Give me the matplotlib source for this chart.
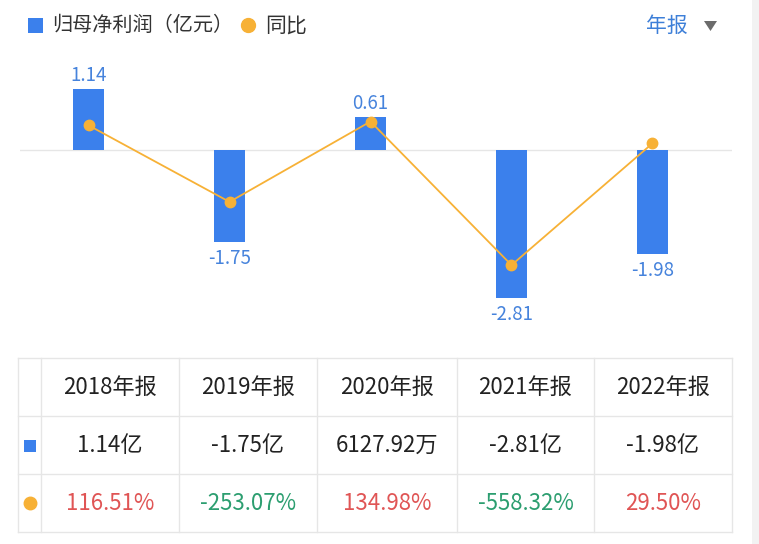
import numpy as np
import matplotlib.pyplot as plt
from matplotlib.patches import Rectangle, Polygon

plt.rcParams['font.family'] = ['Noto Sans CJK SC', 'DejaVu Sans']

# Data
years = ['2018', '2019', '2020', '2021', '2022']
profit = [1.14, -1.75, 0.612792, -2.81, -1.98]   # 归母净利润, 亿元
yoy = [116.51, -253.07, 134.98, -558.32, 29.50]  # 同比, %

# Colours
BLUE = '#3b80ec'
LABEL_BLUE = '#4683dc'
ORANGE = '#f7b136'
RED = '#e05555'
GREEN = '#2c9e70'
GRID = '#e6e6e6'
TXT = '#222222'

W, H = 759, 544
fig = plt.figure(figsize=(W / 100, H / 100), dpi=100)


def px_rect(x0, y0, x1, y1):
    # pixel box (top-left origin) -> figure fraction rect
    return [x0 / W, 1 - y1 / H, (x1 - x0) / W, (y1 - y0) / H]


# bar chart
ax = fig.add_axes(px_rect(20, 60, 732, 340))
x = np.arange(len(years))
ax.bar(x, profit, width=0.22, color=BLUE, zorder=2)
ax.axhline(0, color=GRID, lw=1, zorder=1)
ax.set_xlim(-0.486, 4.564)
ax.set_ylim(-3.594, 1.689)
ax.axis('off')

for xi, v in zip(x, profit):
    ax.annotate(f'{v:.2f}', (xi, v), xytext=(0, 2 if v > 0 else -4),
                textcoords='offset points', ha='center',
                va='bottom' if v > 0 else 'top', color=LABEL_BLUE, fontsize=13.5)

# yoy line on its own scale
ax2 = ax.twinx()
ax2.plot(x, yoy, color=ORANGE, lw=1.3, marker='o', ms=7.5, zorder=3)
ax2.set_ylim(-920, 432)
ax2.axis('off')

# overlay in pixel coords for legend + table
ov = fig.add_axes([0, 0, 1, 1])
ov.set_xlim(0, W)
ov.set_ylim(H, 0)
ov.axis('off')

ov.add_patch(Rectangle((752, 0), 7, H, color='#f2f2f2', lw=0))

# legend
ov.add_patch(Rectangle((28, 18), 15, 15, color=BLUE, lw=0))
ov.text(52, 25.5, '归母净利润（亿元）', fontsize=14.5, color='#333333', va='center')
ov.plot([248], [25], 'o', color=ORANGE, ms=10)
ov.text(265, 25.5, '同比', fontsize=15, color='#333333', va='center')
ov.text(646, 25.5, '年报', fontsize=15, color='#3d7fd8', va='center')
ov.add_patch(Polygon([[704, 21], [717, 21], [710.5, 31]], color='#6b6b6b', lw=0))

# table
col_edges = [18, 41, 179, 317, 457, 594, 732]
row_edges = [358, 416, 474, 532]
for ry in row_edges:
    ov.plot([col_edges[0], col_edges[-1]], [ry, ry], color=GRID, lw=1)
for cx in col_edges:
    ov.plot([cx, cx], [row_edges[0], row_edges[-1]], color=GRID, lw=1)


def fmt_profit(v):
    if abs(v) < 1:
        return f'{v * 10000:.2f}万'
    return f'{v:.2f}亿'


row_mid = [(row_edges[i] + row_edges[i + 1]) / 2 for i in range(3)]
for i, yr in enumerate(years):
    cx = (col_edges[i + 1] + col_edges[i + 2]) / 2
    ov.text(cx, row_mid[0], f'{yr}年报', fontsize=16, color=TXT, ha='center', va='center')
    ov.text(cx, row_mid[1], fmt_profit(profit[i]), fontsize=16, color=TXT, ha='center', va='center')
    ov.text(cx, row_mid[2], f'{yoy[i]:.2f}%', fontsize=16,
            color=RED if yoy[i] >= 0 else GREEN, ha='center', va='center')

ov.add_patch(Rectangle((24, 440), 12, 12, color=BLUE, lw=0))
ov.plot([29.5], [503], 'o', color=ORANGE, ms=9)

fig.savefig('out.png', dpi=100)
